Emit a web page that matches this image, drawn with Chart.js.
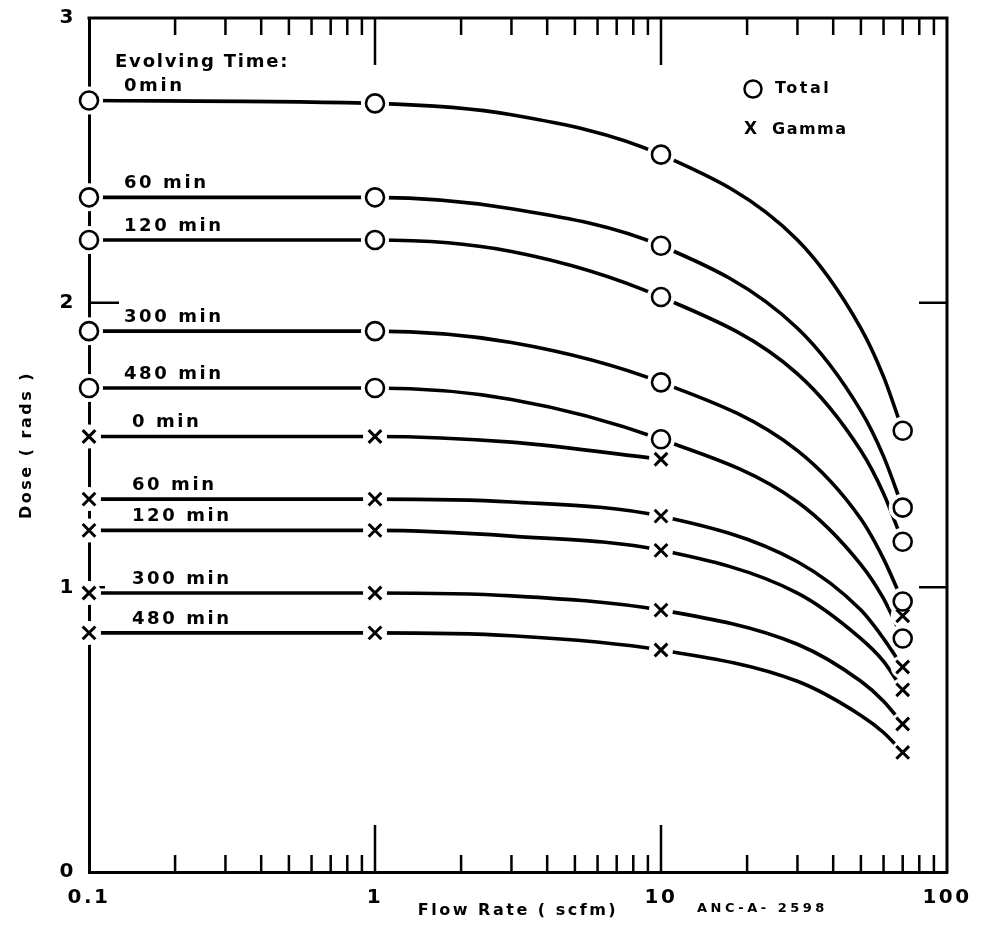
<!DOCTYPE html>
<html>
<head>
<meta charset="utf-8">
<title>Dose vs Flow Rate</title>
<script src="https://cdn.jsdelivr.net/npm/chart.js@4.4.1/dist/chart.umd.min.js"></script>
<style>
  body { margin: 0; background: #fff; }
  #wrap { width: 984px; height: 931px; }
</style>
</head>
<body>
<div id="wrap"><canvas id="mycanvas" width="984" height="931"></canvas></div>
<script>
// flow rates (scfm) of the plotted points
var flowRates = [0.1, 1, 10, 70];

// Total dose (rads), circles
var total0 = [2.71, 2.70, 2.52, 1.55];
var total60 = [2.37, 2.37, 2.20, 1.28];
var total120 = [2.22, 2.22, 2.02, 1.16];
var total300 = [1.90, 1.90, 1.72, 0.95];
var total480 = [1.70, 1.70, 1.52, 0.82];

// Gamma dose (rads), crosses
var gamma0 = [1.53, 1.53, 1.45, 0.90];
var gamma60 = [1.31, 1.31, 1.25, 0.72];
var gamma120 = [1.20, 1.20, 1.13, 0.64];
var gamma300 = [0.98, 0.98, 0.92, 0.52];
var gamma480 = [0.84, 0.84, 0.78, 0.42];

// the hand drawn curves
var curveFlow = [0.1, 1, 3, 10, 30, 50, 60, 70];
var curveTotal0 = [2.71, 2.70, 2.66, 2.52, 2.22, 1.91, 1.74, 1.55];
var curveTotal60 = [2.37, 2.37, 2.33, 2.20, 1.91, 1.62, 1.46, 1.28];
var curveTotal120 = [2.22, 2.22, 2.18, 2.02, 1.75, 1.48, 1.33, 1.16];
var curveTotal300 = [1.90, 1.90, 1.86, 1.72, 1.48, 1.24, 1.10, 0.95];
var curveTotal480 = [1.70, 1.70, 1.66, 1.52, 1.30, 1.08, 0.96, 0.82];
var curveGamma0 = [1.53, 1.53, 1.51, 1.45, null, null, null, null];
var curveGamma60 = [1.31, 1.31, 1.30, 1.25, 1.09, 0.92, 0.82, 0.72];
var curveGamma120 = [1.20, 1.20, 1.18, 1.13, 0.98, 0.82, 0.74, 0.64];
var curveGamma300 = [0.98, 0.98, 0.97, 0.92, 0.80, 0.67, 0.60, 0.52];
var curveGamma480 = [0.84, 0.84, 0.83, 0.78, 0.67, 0.55, 0.49, 0.42];

var totalLabels = ['0min', '60 min', '120 min', '300 min', '480 min'];
var gammaLabels = ['0 min', '60 min', '120 min', '300 min', '480 min'];

// axis ticks
var xTickValues = [0.1, 1, 10, 100];
var xTickLabels = ['0.1', '1', '10', '100'];
var xMinorTicks = [0.2, 0.3, 0.4, 0.5, 0.6, 0.7, 0.8, 0.9, 2, 3, 4, 5, 6, 7, 8, 9, 20, 30, 40, 50, 60, 70, 80, 90];
var xMajorTicks = [1, 10];
var yTickLabels = ['0', '1', '2', '3'];
var yInnerTicks = [1, 2];

var FONT = "'DejaVu Sans', sans-serif";

function toPoints(xs, ys) {
  var pts = [];
  for (var i = 0; i < xs.length; i++) {
    pts.push({x: xs[i], y: ys[i]});
  }
  return pts;
}

var totals = [total0, total60, total120, total300, total480];
var gammas = [gamma0, gamma60, gamma120, gamma300, gamma480];
var curves = [curveTotal0, curveTotal60, curveTotal120, curveTotal300, curveTotal480,
              curveGamma0, curveGamma60, curveGamma120, curveGamma300, curveGamma480];

var totalPts = [];
var gammaPts = [];
totals.forEach(function(s) { totalPts = totalPts.concat(toPoints(flowRates, s)); });
gammas.forEach(function(s) { gammaPts = gammaPts.concat(toPoints(flowRates, s)); });

var datasets = [];
curves.forEach(function(c) {
  datasets.push({
    data: toPoints(curveFlow, c),
    borderColor: '#000',
    borderWidth: 3.6,
    pointRadius: 0,
    cubicInterpolationMode: 'monotone',
    fill: false,
    spanGaps: false,
    order: 3
  });
});
// white rings so the lines stop short of the markers
datasets.push({
  data: totalPts, showLine: false, clip: false, order: 2,
  pointRadius: 14, pointBackgroundColor: '#fff', pointBorderWidth: 0, pointBorderColor: '#fff'
});
datasets.push({
  data: gammaPts, showLine: false, clip: false, order: 2,
  pointRadius: 12, pointBackgroundColor: '#fff', pointBorderWidth: 0, pointBorderColor: '#fff'
});
datasets.push({
  label: 'Total', data: totalPts, showLine: false, clip: false, order: 1,
  pointStyle: 'circle', pointRadius: 9, pointBorderWidth: 2.6,
  pointBorderColor: '#000', pointBackgroundColor: 'rgba(0,0,0,0)'
});
datasets.push({
  label: 'Gamma', data: gammaPts, showLine: false, clip: false, order: 1,
  pointStyle: 'crossRot', pointRadius: 9, pointBorderWidth: 3,
  pointBorderColor: '#000', pointBackgroundColor: '#000'
});

var spacing = {
  id: 'spacing',
  beforeDraw: function(chart) {
    chart.ctx.letterSpacing = '2.5px';
  }
};

var frameTicks = {
  id: 'frameTicks',
  beforeDatasetsDraw: function(chart) {
    var ctx = chart.ctx;
    var a = chart.chartArea;
    var xs = chart.scales.x;
    var ys = chart.scales.y;
    ctx.save();
    ctx.strokeStyle = '#000';
    ctx.lineWidth = 3;
    ctx.beginPath();
    ctx.moveTo(a.left - 1.5, a.top);
    ctx.lineTo(a.right, a.top);
    ctx.lineTo(a.right, a.bottom + 1.5);
    ctx.stroke();

    ctx.lineWidth = 2.5;
    ctx.beginPath();
    xMinorTicks.forEach(function(v) {
      var px = xs.getPixelForValue(v);
      ctx.moveTo(px, a.top);
      ctx.lineTo(px, a.top + 17);
      ctx.moveTo(px, a.bottom);
      ctx.lineTo(px, a.bottom - 17);
    });
    xMajorTicks.forEach(function(v) {
      var px = xs.getPixelForValue(v);
      ctx.moveTo(px, a.top);
      ctx.lineTo(px, a.top + 47);
      ctx.moveTo(px, a.bottom);
      ctx.lineTo(px, a.bottom - 47);
    });
    yInnerTicks.forEach(function(v) {
      var py = ys.getPixelForValue(v);
      ctx.moveTo(a.left, py);
      ctx.lineTo(a.left + (v == 2 ? 30 : 16), py);
      ctx.moveTo(a.right, py);
      ctx.lineTo(a.right - 28, py);
    });
    ctx.stroke();
    ctx.restore();
  }
};

var notes = {
  id: 'notes',
  afterDraw: function(chart) {
    var ctx = chart.ctx;
    var a = chart.chartArea;
    var xs = chart.scales.x;
    var ys = chart.scales.y;
    ctx.save();
    ctx.fillStyle = '#000';
    ctx.textBaseline = 'middle';
    ctx.textAlign = 'left';
    ctx.letterSpacing = '1.8px';
    ctx.font = 'bold 18px ' + FONT;
    ctx.fillText('Evolving Time:', a.left + 26, a.top + 44);

    ctx.letterSpacing = '2.6px';
    ctx.font = 'bold 18px ' + FONT;
    var lx = xs.getPixelForValue(flowRates[0]) + 38;
    totals.forEach(function(s, i) {
      ctx.fillText(totalLabels[i], lx - 3, ys.getPixelForValue(s[0]) - 14);
    });
    gammas.forEach(function(s, i) {
      ctx.fillText(gammaLabels[i], lx + 5, ys.getPixelForValue(s[0]) - 14);
    });

    // legend
    var gx = a.right - 194;
    ctx.lineWidth = 2.5;
    ctx.strokeStyle = '#000';
    ctx.beginPath();
    ctx.arc(gx, a.top + 71, 8.5, 0, Math.PI * 2);
    ctx.stroke();
    ctx.letterSpacing = '2.5px';
    ctx.font = 'bold 16px ' + FONT;
    ctx.fillText('Total', a.right - 172, a.top + 71);
    ctx.font = 'bold 17px ' + FONT;
    ctx.fillText('X', gx - 9, a.top + 112);
    ctx.font = 'bold 16px ' + FONT;
    ctx.letterSpacing = '1.5px';
    ctx.fillText('Gamma', a.right - 175, a.top + 112);

    ctx.letterSpacing = '3.5px';
    ctx.font = 'bold 13px ' + FONT;
    ctx.fillText('ANC-A- 2598', a.right - 250, chart.height - 22);
    ctx.restore();
  }
};

var ctx = document.getElementById('mycanvas');
var doseChart = new Chart(ctx, {
  type: 'line',
  data: { datasets: datasets },
  options: {
    responsive: false,
    animation: false,
    events: [],
    layout: { padding: { top: 18, right: 37, left: 0, bottom: 0 } },
    plugins: {
      legend: { display: false },
      tooltip: { enabled: false }
    },
    scales: {
      x: {
        type: 'logarithmic',
        min: 0.1,
        max: 100,
        afterBuildTicks: function(scale) {
          scale.ticks = xTickValues.map(function(v) { return {value: v}; });
        },
        afterFit: function(scale) { scale.height = 59; },
        grid: { display: false },
        border: { display: true, color: '#000', width: 3 },
        ticks: {
          autoSkip: false,
          maxRotation: 0,
          padding: 6,
          color: '#000',
          font: { family: FONT, size: 20, weight: 'bold' },
          callback: function(v, i) { return xTickLabels[i]; }
        },
        title: {
          display: true,
          text: 'Flow Rate ( scfm)',
          color: '#000',
          font: { family: FONT, size: 16, weight: 'bold' },
          padding: { top: 0, bottom: 11 }
        }
      },
      y: {
        min: 0,
        max: 3,
        afterFit: function(scale) { scale.width = 89; },
        grid: { display: false },
        border: { display: true, color: '#000', width: 3 },
        ticks: {
          stepSize: 1,
          padding: 5,
          color: '#000',
          font: { family: FONT, size: 20, weight: 'bold' },
          callback: function(v) { return yTickLabels[v]; }
        },
        title: {
          display: true,
          text: 'Dose ( rads )',
          color: '#000',
          font: { family: FONT, size: 16, weight: 'bold' },
          padding: { top: 17, bottom: 0 }
        }
      }
    }
  },
  plugins: [spacing, frameTicks, notes]
});
</script>
</body>
</html>
